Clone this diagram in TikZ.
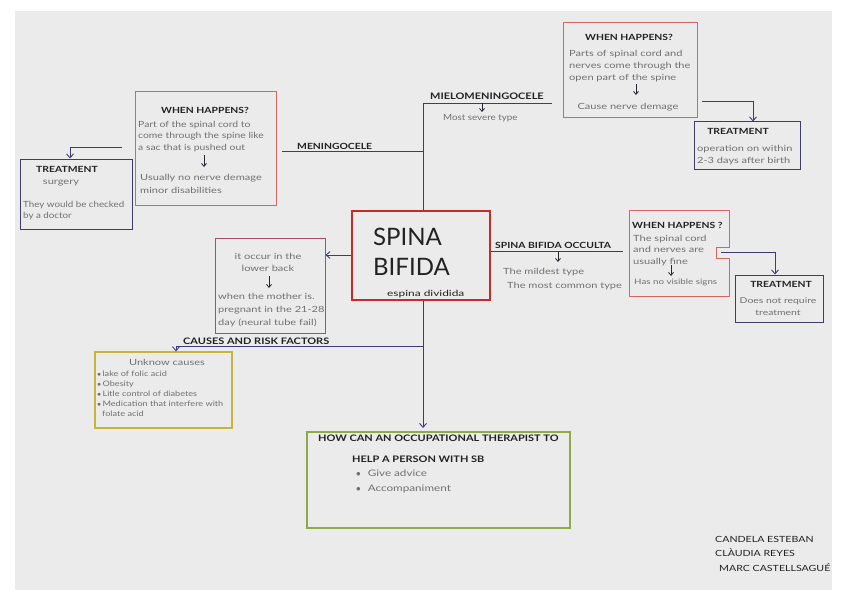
\documentclass[tikz,border=0pt]{standalone}
\usepackage{fontspec}
\setmainfont{Lato}
\newfontfamily\hand[FakeStretch=1.3]{Lato}
\newfontfamily\handn[FakeStretch=1.15]{Lato}
\newfontfamily\handw[FakeStretch=1.4]{Lato}
\newfontfamily\handm[FakeStretch=1.25]{Lato}
\newfontfamily\handb[FakeStretch=1.22]{Lato}
\usetikzlibrary{arrows.meta}
\definecolor{paper}{HTML}{EBEBEB}
\definecolor{ink}{HTML}{3C3A78}
\definecolor{whred}{HTML}{D8655E}
\definecolor{bigred}{HTML}{C62A2A}
\definecolor{mag}{HTML}{AE4A70}
\definecolor{olive}{HTML}{C8B43A}
\definecolor{leaf}{HTML}{8FA84A}
\definecolor{trbox}{HTML}{3E3D6A}
\definecolor{txt}{HTML}{707070}
\definecolor{dark}{HTML}{222222}
\tikzset{
  conn/.style={draw=ink, line width=0.9pt},
  arr/.style={conn, -{Straight Barb[length=4pt,width=7pt]}},
  minarr/.style={draw=dark!80!ink, line width=0.8pt, -{Straight Barb[length=3pt,width=5pt]}},
  boxnode/.style={inner sep=0pt, line width=1pt},
  head/.style={inner sep=0pt, text=dark, font=\handb\bfseries\fontsize{8.5}{10}\selectfont},
  bigtitle/.style={inner sep=0pt, text=dark, font=\fontsize{24}{28}\selectfont},
  body/.style={inner sep=0pt, text=txt, align=left, font=\hand\fontsize{8.5}{11.5}\selectfont},
  small/.style={inner sep=0pt, text=txt, align=left, font=\handb\fontsize{7.5}{10}\selectfont},
  names/.style={inner sep=0pt, text=dark, align=left, font=\handm\fontsize{8.5}{14.5}\selectfont},
}
\begin{document}
\begin{tikzpicture}[x=1pt,y=-1pt]
\useasboundingbox (0,0) rectangle (848,599);
\fill[white] (0,0) rectangle (848,599);
\fill[paper] (15,11) rectangle (832,590);

% ---------- boxes ----------
\node[boxnode, draw=bigred, line width=2.8pt, minimum width=138, minimum height=89] (sb) at (421,255.5) {};
\node[boxnode, draw=whred, minimum width=141, minimum height=113] (wh1) at (205.5,148.5) {};
\node[boxnode, draw=trbox, minimum width=112, minimum height=70] (tr1) at (76,194) {};
\node[boxnode, draw=whred, minimum width=134, minimum height=95] (wh2) at (630,70.5) {};
\node[boxnode, draw=trbox, minimum width=106, minimum height=47] (tr2) at (747,145.5) {};
\node[boxnode, minimum width=100, minimum height=86] (wh3) at (679,253) {};
\draw[draw=whred, line width=1pt] (629,210) -- (729,210) -- (729,247) -- (716,247) -- (716,258) -- (729,258) -- (729,296) -- (629,296) -- cycle;
\node[boxnode, draw=trbox, minimum width=88, minimum height=47] (tr3) at (779,298.5) {};
\node[boxnode, draw=mag, minimum width=110, minimum height=95] (lb) at (270,285.5) {};
\node[boxnode, draw=olive, line width=1.3pt, minimum width=137, minimum height=76] (cz) at (163.5,390) {};
\node[boxnode, draw=leaf, line width=1.3pt, minimum width=263, minimum height=96] (ot) at (438.5,480) {};

% ---------- center ----------
\node[bigtitle, anchor=west] (t-spina) at (373,237) {SPINA};
\node[bigtitle, anchor=west] (t-bifida) at (373,267) {BIFIDA};
\node[inner sep=0pt, text=dark, anchor=west, font=\handw\fontsize{8.5}{10}\selectfont] (t-esp) at (387,294) {espina dividida};

% ---------- connectors ----------
\coordinate (mtop) at (423,103);
\coordinate (mend) at (552,103);
\draw[conn] (sb.north -| mtop) -- (mtop) -- (mend);
\coordinate (menL) at (282,151);
\draw[conn] (menL) -- (menL -| mtop);
\coordinate (occR) at (623,251);
\draw[conn] (sb.east |- occR) -- (occR);
\coordinate (la) at (352,255);
\draw[arr] (sb.west |- la) -- (lb.east |- la);
\coordinate (otin) at (423,428);
\draw[arr] (sb.south -| mtop) -- (otin);
\coordinate (cj) at (423,346);
\coordinate (cl) at (176,346);
\draw[conn] (cj) -- (cl);
\draw[arr] (cl) -- (cl |- cz.north);
% treatment arrows
\coordinate (t1a) at (122,147);
\coordinate (t1b) at (70,147);
\draw[arr] (t1a) -- (t1b) -- (t1b |- tr1.north);
\coordinate (t2a) at (702,101);
\coordinate (t2b) at (753,101);
\draw[arr] (t2a) -- (t2b) -- (t2b |- tr2.north);
\coordinate (t3a) at (721,252);
\coordinate (t3b) at (775,252);
\draw[arr] (t3a) -- (t3b) -- (t3b |- tr3.north);

% ---------- branch labels ----------
\node[head, anchor=west, font=\handb\bfseries\fontsize{9}{10}\selectfont] (l-mielo) at (430,96) {MIELOMENINGOCELE};
\coordinate (ma1) at (482,103); \coordinate (ma2) at (482,112);
\draw[minarr] (ma1) -- (ma2);
\node[body, anchor=west, font=\handn\fontsize{8.5}{10}\selectfont] (l-mielo2) at (443,118) {Most severe type};
\node[head, anchor=west] (l-men) at (297,146) {MENINGOCELE};
\node[head, anchor=west] (l-occ) at (495,245) {SPINA BIFIDA OCCULTA};
\coordinate (oa1) at (558,251); \coordinate (oa2) at (558,262);
\draw[minarr] (oa1) -- (oa2);
\node[body, anchor=west] (l-occ2) at (503,272) {The mildest type};
\node[body, anchor=west] (l-occ3) at (507,286) {The most common type};
\node[head, anchor=west, font=\handb\bfseries\fontsize{9}{10}\selectfont] (l-cause) at (183,341) {CAUSES AND RISK FACTORS};

% ---------- left WHEN HAPPENS ----------
\node[head] (wh1t) at (205,110) {WHEN HAPPENS?};
\node[body, anchor=north west, font=\handb\fontsize{8.5}{11.5}\selectfont] (wh1a) at (138,121) {Part of the spinal cord to\\come through the spine like\\a sac that is pushed out};
\coordinate (w1a) at (204,155); \coordinate (w1b) at (204,167);
\draw[minarr] (w1a) -- (w1b);
\node[body, anchor=north west, font=\hand\fontsize{8.5}{13}\selectfont] (wh1b) at (140,174) {Usually no nerve demage\\minor disabilities};

% ---------- left TREATMENT ----------
\node[head] (tr1t) at (67,169) {TREATMENT};
\node[body] (tr1a) at (61,183) {surgery};
\node[body, anchor=north west, font=\handn\fontsize{8.5}{11.5}\selectfont] (tr1b) at (23,201) {They would be checked\\by a doctor};

% ---------- top right WHEN HAPPENS ----------
\node[head] (wh2t) at (629,37) {WHEN HAPPENS?};
\node[body, anchor=north west, font=\hand\fontsize{8.5}{12}\selectfont] (wh2a) at (569,50) {Parts of spinal cord and\\nerves come through the\\open part of the spine};
\coordinate (w2a) at (636,84); \coordinate (w2b) at (636,95);
\draw[minarr] (w2a) -- (w2b);
\node[body] (wh2b) at (628,107) {Cause nerve demage};

% ---------- top right TREATMENT ----------
\node[head] (tr2t) at (738,131) {TREATMENT};
\node[body, anchor=north west, font=\hand\fontsize{8.5}{12}\selectfont] (tr2a) at (697,145) {operation on within\\2-3 days after birth};

% ---------- right WHEN HAPPENS ----------
\node[head, anchor=west] (wh3t) at (632,225) {WHEN HAPPENS ?};
\node[body, anchor=north west] (wh3a) at (633,235) {The spinal cord\\and nerves are\\usually fine};
\coordinate (w3a) at (671,265); \coordinate (w3b) at (671,276);
\draw[minarr] (w3a) -- (w3b);
\node[small, anchor=west, font=\hand\fontsize{7.5}{10}\selectfont] (wh3b) at (634,282) {Has no visible signs};

% ---------- right TREATMENT ----------
\node[head] (tr3t) at (781,284) {TREATMENT};
\node[body, align=center, anchor=north, font=\hand\fontsize{8}{12}\selectfont] (tr3a) at (778,297) {Does not require\\treatment};

% ---------- lower back box ----------
\node[body, align=center, anchor=north, font=\hand\fontsize{8.5}{12}\selectfont] (lba) at (268,253) {it occur in the\\lower back};
\coordinate (l1a) at (269,276); \coordinate (l1b) at (269,288);
\draw[minarr] (l1a) -- (l1b);
\node[body, anchor=north west, font=\hand\fontsize{8.5}{13}\selectfont] (lbb) at (218,293) {when the mother is.\\pregnant in the 21-28\\day (neural tube fail)};

% ---------- causes box ----------
\node[body] (cza) at (167,362) {Unknow causes};
\node[small, anchor=north west] (czb) at (97,371) {$\bullet$\,lake of folic acid\\$\bullet$\,Obesity\\$\bullet$\,Litle control of diabetes\\$\bullet$\,Medication that interfere with\\\hspace*{5pt}folate acid};

% ---------- OT box ----------
\node[head, anchor=west, font=\handb\bfseries\fontsize{9}{10}\selectfont] (ota) at (318,438) {HOW CAN AN OCCUPATIONAL THERAPIST TO};
\node[head, anchor=west, font=\handb\bfseries\fontsize{9}{10}\selectfont] (otb) at (352,459) {HELP A PERSON WITH SB};
\node[body, anchor=north west, font=\hand\fontsize{9}{15}\selectfont] (otc) at (356,470) {$\bullet$\hspace{7pt}Give advice\\$\bullet$\hspace{7pt}Accompaniment};

% ---------- names ----------
\node[names, anchor=north west] (auth) at (715,536) {CANDELA ESTEBAN\\CLÀUDIA REYES\\\hspace*{4pt}MARC CASTELLSAGUÉ};
\end{tikzpicture}
\end{document}
